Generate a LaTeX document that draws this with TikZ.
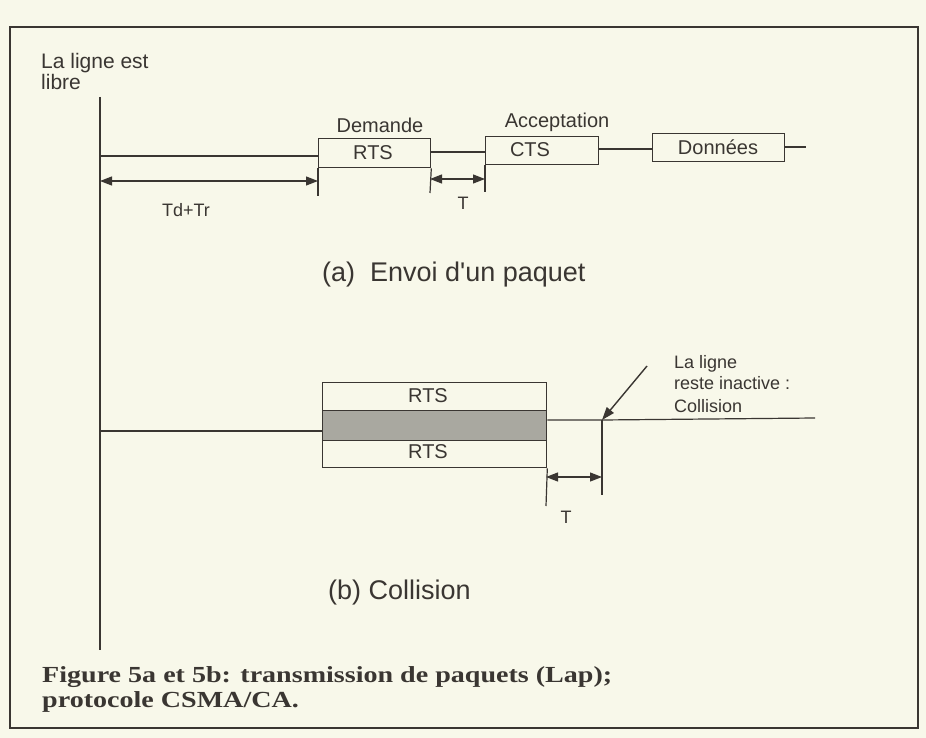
\documentclass[tikz,border=0pt]{standalone}
\usepackage{fontspec}
\setmainfont{Liberation Sans}
\newfontfamily\capfont[FakeStretch=1.22]{Liberation Serif}
\usetikzlibrary{arrows.meta}
\definecolor{paper}{HTML}{F8F8EA}
\definecolor{ink}{HTML}{3A3632}
\definecolor{band}{HTML}{A9A8A0}
\tikzset{
  ln/.style={draw=ink, line width=1.2pt},
  frame/.style={draw=ink, line width=1.4pt},
  box/.style={draw=ink, line width=1.3pt, fill=paper},
  dim/.style={draw=ink, line width=1.2pt, {Triangle[length=12pt,width=9pt]}-{Triangle[length=12pt,width=9pt]}},
  ptr/.style={draw=ink, line width=1.4pt, -{Triangle[length=13pt,width=9pt]}},
  lbl/.style={text=ink, inner sep=0pt, font=\fontsize{20}{22}\selectfont},
  small/.style={text=ink, inner sep=0pt, font=\fontsize{18}{21}\selectfont},
  big/.style={text=ink, inner sep=0pt, font=\fontsize{27}{30}\selectfont},
  captext/.style={text=ink, inner sep=0pt, align=left, font=\capfont\bfseries\fontsize{23}{25}\selectfont}
}
\begin{document}
\begin{tikzpicture}[x=1pt,y=-1pt]
\useasboundingbox (0,0) rectangle (926,738);
\fill[paper] (0,0) rectangle (926,738);
% frame
\draw[frame] (10,27) rectangle (918,728);

% timeline
\coordinate (vt) at (100,97);
\coordinate (vb) at (100,650);
\draw[ln] (vt) -- (vb);

% top label
\node[lbl, anchor=base west, font=\fontsize{21}{22}\selectfont] (libre1) at (41,69) {La ligne est};
\node[lbl, anchor=base west, font=\fontsize{21}{22}\selectfont] (libre2) at (41,90) {libre};

% ---------- (a) ----------
\node[box, minimum width=112pt, minimum height=29pt, anchor=north west] (rts) at (318,138) {};
\node[box, minimum width=113pt, minimum height=28pt, anchor=north west] (cts) at (485,136) {};
\node[box, minimum width=132pt, minimum height=28pt, anchor=north west] (don) at (652,133) {};
\node[lbl] (rtst) at (373,153) {RTS};
\node[lbl] (ctst) at (530,150) {CTS};
\node[lbl] (dont) at (718,147) {Données};
\node[lbl, anchor=base] (dem) at (380,133) {Demande};
\node[lbl, anchor=base] (acc) at (557,128) {Acceptation};

\coordinate (a0) at (100,156);
\draw[ln] (a0) -- (a0 -| rts.west);
\draw[ln] (rts.east |- 0,152) -- (cts.west |- 0,152);
\draw[ln] (cts.east |- 0,149) -- (don.west |- 0,149);
\coordinate (aend) at (806,147);
\draw[ln] (don.east |- aend) -- (aend);

% ticks
\coordinate (t1) at (318,196);
\coordinate (t2) at (430,193);
\coordinate (t3) at (485,192);
\draw[ln] (rts.south west) -- (t1);
\draw[ln] (rts.south east) -- (t2);
\draw[ln] (cts.south west) -- (t3);

% dimension arrows
\coordinate (d1a) at (100,181);
\coordinate (d1b) at (318,181);
\draw[dim] (d1a) -- (d1b);
\coordinate (d2a) at (430,179);
\coordinate (d2b) at (485,179);
\draw[dim] (d2a) -- (d2b);
\node[small] (tdtr) at (186,210) {Td+Tr};
\node[small] (ta) at (463,203) {T};

\node[big, anchor=base west] (capa) at (322,281) {(a)\ \ Envoi d\textquotesingle un paquet};

% ---------- (b) ----------
\node[box, minimum width=224pt, minimum height=28pt, anchor=north west] (rtsb1) at (322,382) {};
\node[draw=ink, line width=1.3pt, fill=band, minimum width=224pt, minimum height=30pt, anchor=north west] (bandb) at (322,410) {};
\node[box, minimum width=224pt, minimum height=27pt, anchor=north west] (rtsb2) at (322,440) {};
\node[lbl] (rb1t) at (428,396) {RTS};
\node[lbl] (rb2t) at (428,452) {RTS};

\coordinate (b0) at (100,431);
\draw[ln] (b0) -- (b0 -| bandb.west);
\coordinate (coll) at (602,420);
\coordinate (bend) at (815,418);
\draw[ln] (bandb.east |- coll) -- (coll) -- (bend);

\coordinate (tb1) at (546,506);
\coordinate (tb2) at (602,495);
\draw[ln] (rtsb2.south east) -- (tb1);
\draw[ln] (coll) -- (tb2);
\coordinate (d3a) at (546,477);
\coordinate (d3b) at (602,477);
\draw[dim] (d3a) -- (d3b);
\node[small] (tb) at (566,517) {T};

\coordinate (ptrstart) at (647,366);
\draw[ptr] (ptrstart) -- (coll);
\node[small, anchor=base west] (inact1) at (674,368) {La ligne};
\node[small, anchor=base west] (inact2) at (674,389) {reste inactive :};
\node[small, anchor=base west] (inact3) at (674,412) {Collision};

\node[big, anchor=base west] (capb) at (328,599) {(b) Collision};

% caption
\node[captext, anchor=base west] (fig1) at (42,682) {Figure 5a et 5b: transmission de paquets (Lap);};
\node[captext, anchor=base west] (fig2) at (42,707) {protocole CSMA/CA.};
\end{tikzpicture}
\end{document}
